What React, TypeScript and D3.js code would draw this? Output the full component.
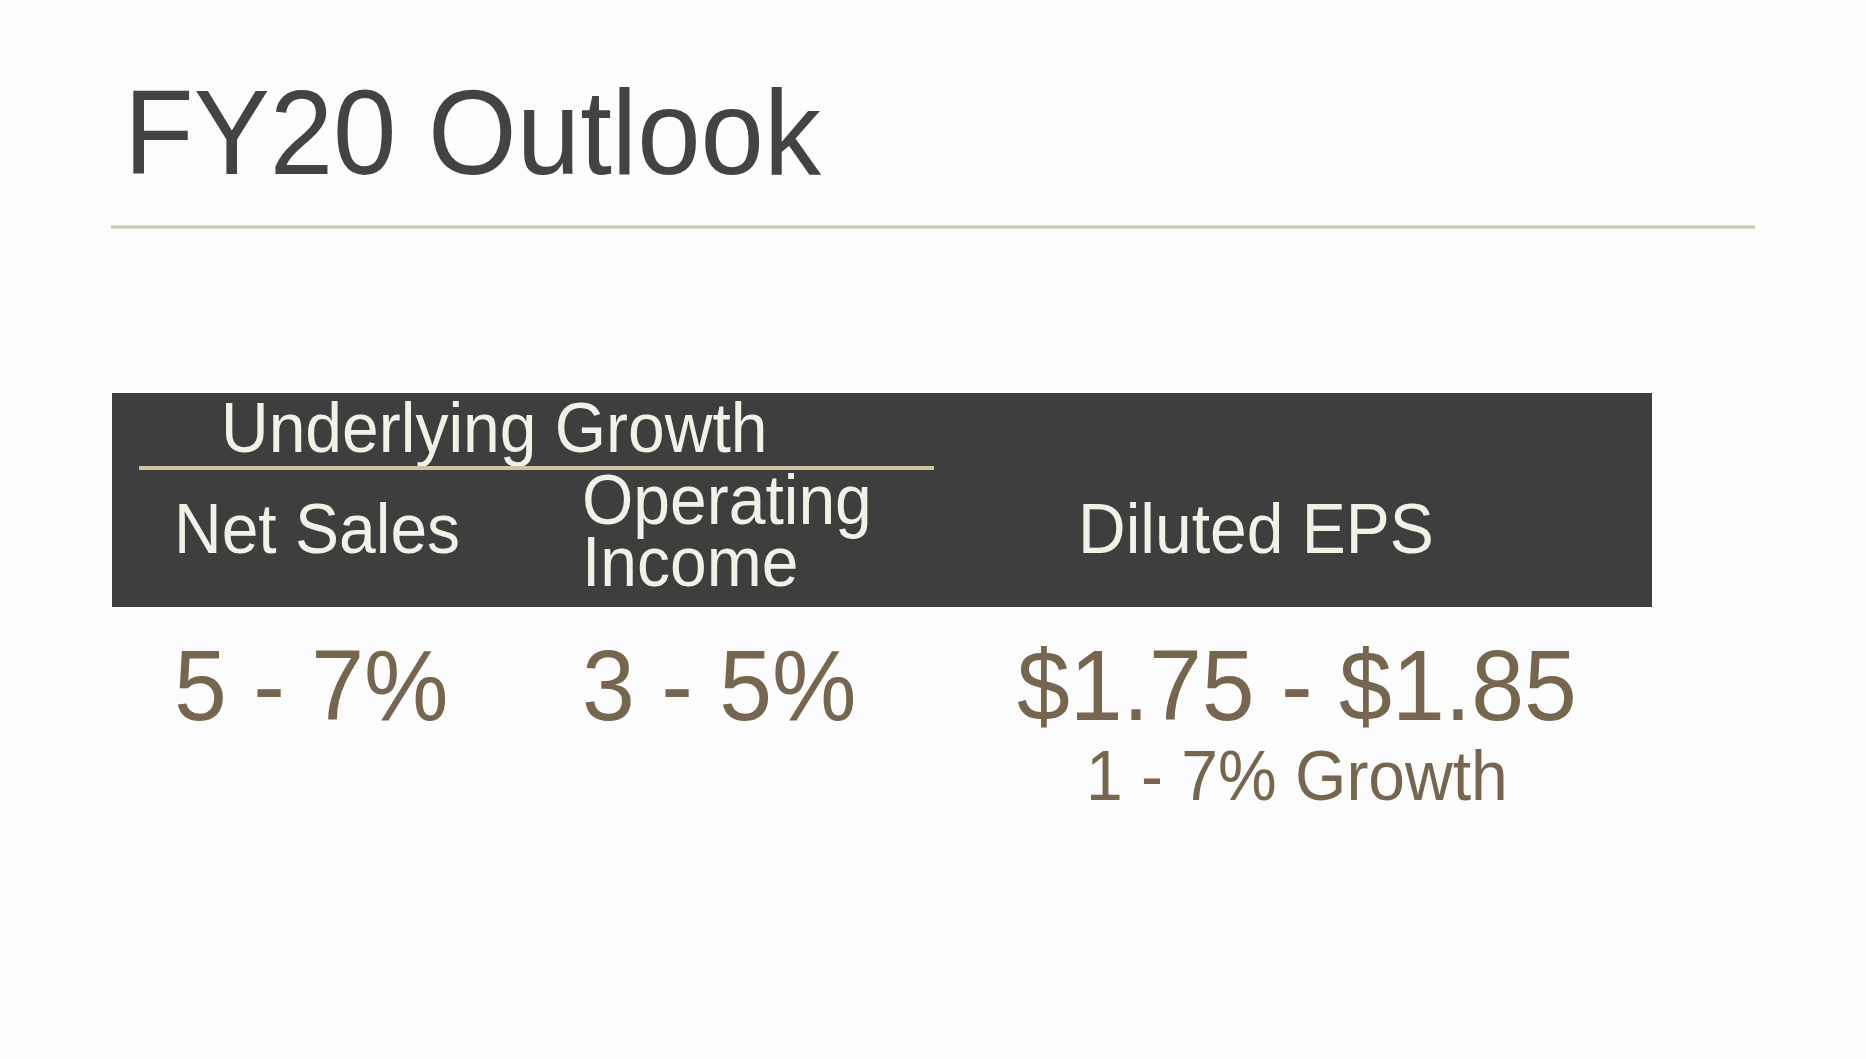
import React, { useEffect, useRef } from 'react';
import * as d3 from 'd3';

const title = 'FY20 Outlook';
const groupLabel = 'Underlying Growth';
const columns = ['netSales', 'operatingIncome', 'dilutedEps'];
const headerLines = [['Net Sales'], ['Operating', 'Income'], ['Diluted EPS']];
const valueLabels = ['5 - 7%', '3 - 5%', '$1.75 - $1.85'];
const noteLabels = ['', '', '1 - 7% Growth'];

const W = 1866;
const H = 1059;
const FONT = '"Liberation Sans", Arial, Helvetica, sans-serif';
// the slide's type looks a bit condensed, so stretch the glyphs vertically
const STRETCH = 1.06;

export default function App() {
  const svgRef = useRef<SVGSVGElement | null>(null);

  useEffect(() => {
    const svg = d3.select(svgRef.current);
    svg.selectAll('*').remove();

    const addText = (x: number, y: number, size: number, fill: string, str: string) =>
      svg.append('text')
        .attr('transform', `translate(${x},${y}) scale(${1 / STRETCH},1)`)
        .attr('font-family', FONT)
        .attr('font-size', size * STRETCH)
        .attr('fill', fill)
        .text(str);

    svg.append('rect').attr('width', W).attr('height', H).attr('fill', '#fcfcfc');

    // title + rule
    addText(124, 174, 114, '#434343', title);

    svg.append('line')
      .attr('x1', 111).attr('x2', 1755)
      .attr('y1', 227).attr('y2', 227)
      .attr('stroke', '#cbc5a5')
      .attr('stroke-width', 3);

    // header band
    svg.append('rect')
      .attr('x', 112).attr('y', 393)
      .attr('width', 1540).attr('height', 214)
      .attr('fill', '#3e3e3e');

    addText(221, 452, 66, '#f2f1e8', groupLabel);

    svg.append('line')
      .attr('x1', 139).attr('x2', 934)
      .attr('y1', 468).attr('y2', 468)
      .attr('stroke', '#cbc3a2')
      .attr('stroke-width', 4);

    // column positions
    const headerX = d3.scaleOrdinal<string, number>().domain(columns).range([174, 582, 1078]);
    const valueX = d3.scaleOrdinal<string, number>().domain(columns).range([174, 582, 1017]);
    const noteX = d3.scaleOrdinal<string, number>().domain(columns).range([174, 582, 1086]);

    columns.forEach((c, i) => {
      const lines = headerLines[i];
      const baseY = lines.length > 1 ? 524 : 553;
      lines.forEach((ln, j) => {
        addText(headerX(c), baseY + j * 62, 66, '#f2f1e8', ln);
      });

      addText(valueX(c), 720, 95, '#76664f', valueLabels[i]);

      if (noteLabels[i]) {
        addText(noteX(c), 800, 66, '#76664f', noteLabels[i]);
      }
    });
  }, []);

  return (
    <div style={{ position: 'fixed', left: 0, top: 0, width: W, height: H }}>
      <svg ref={svgRef} width={W} height={H} style={{ display: 'block' }}></svg>
    </div>
  );
}
